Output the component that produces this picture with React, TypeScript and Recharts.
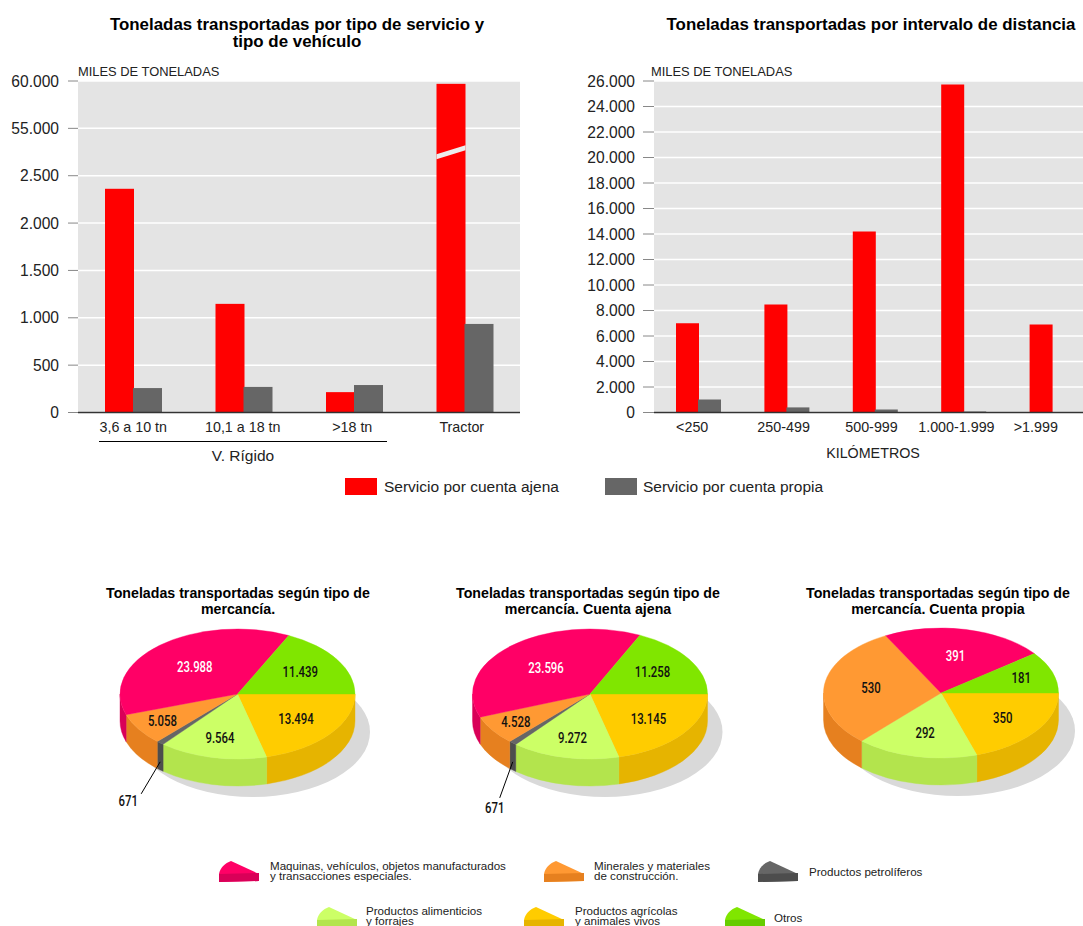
import { Bar, BarChart, CartesianGrid, Pie, PieChart, XAxis, YAxis } from 'recharts';

const SANS = '"Liberation Sans", Arial, sans-serif';
const CONDENSED = 'Roboto, "Liberation Sans", sans-serif';

const RED = '#ff0000';
const GRAY = '#666666';
const PLOT_BG = '#e4e4e4';

// top chart: tipo de vehiculo
const vehicleCategories = ['3,6 a 10 tn', '10,1 a 18 tn', '>18 tn', 'Tractor'];
const vehicleAjena = [2362, 1147, 215, 59700];
const vehiclePropia = [258, 270, 290, 935];
const vehicleTicks = [0, 500, 1000, 1500, 2000, 2500, 3000, 3500];
const vehicleTickLabels = ['0', '500', '1.000', '1.500', '2.000', '2.500', '55.000', '60.000'];
const vehicleLabelShift = [0, -1, -2, -3];

// top chart: distancia
const distanceCategories = ['<250', '250-499', '500-999', '1.000-1.999', '>1.999'];
const distanceAjena = [7000, 8470, 14200, 25730, 6900];
const distancePropia = [1020, 400, 235, 80, 20];
const distanceTicks = [0, 2000, 4000, 6000, 8000, 10000, 12000, 14000, 16000, 18000, 20000, 22000, 24000, 26000];
const distanceLabelShift = [-6, -3, -3.5, -7, -16];

// pies, clockwise from 3 o'clock
const cargoKeys = ['agricolas', 'alimenticios', 'petroliferos', 'minerales', 'maquinas', 'otros'];
const pieTotal = [13494, 9564, 671, 5058, 23988, 11439];
const pieAjena = [13145, 9272, 671, 4528, 23596, 11258];
const piePropia = [350, 292, 0, 530, 391, 181];

const topColors = ['#ffcc00', '#ccff66', '#666666', '#ff9933', '#ff0066', '#80e600'];
const wallColors = ['#e6b400', '#b3e44d', '#4d4d4d', '#e6801f', '#d90058', '#66cc00'];
const labelColors = ['#111', '#111', '#111', '#111', '#fff', '#111'];

const RX = 117.5;
const RY = 65;
const DEPTH = 27;

const miles = (v: number) => String(v).replace(/\B(?=(\d{3})+(?!\d))/g, '.');

// anything above the break is drawn on the compressed part of the axis
const toBrokenAxis = (v: number) => (v <= 2500 ? v : 3000 + (v - 55000) / 10);

const vehicleData = vehicleCategories.map((name, i) => ({
  name,
  ajena: toBrokenAxis(vehicleAjena[i]),
  propia: vehiclePropia[i],
}));

const distanceData = distanceCategories.map((name, i) => ({
  name,
  ajena: distanceAjena[i],
  propia: distancePropia[i],
}));

const point = (cx: number, cy: number, deg: number) => {
  const a = (deg * Math.PI) / 180;
  return [cx + RX * Math.cos(a), cy - RY * Math.sin(a)];
};

function TopSlice({ cx, cy, startAngle, endAngle, payload }: any) {
  if (startAngle === endAngle) return null;
  const [x1, y1] = point(cx, cy, startAngle);
  const [x2, y2] = point(cx, cy, endAngle);
  const large = Math.abs(startAngle - endAngle) > 180 ? 1 : 0;
  const color = topColors[payload.index];
  return (
    <path
      d={`M${cx},${cy}L${x1},${y1}A${RX},${RY} 0 ${large} 1 ${x2},${y2}Z`}
      fill={color}
      stroke={color}
      strokeWidth={0.4}
    />
  );
}

function WallSlice({ cx, cy, startAngle, endAngle, payload }: any) {
  const hi = Math.min(startAngle, 0);
  const lo = Math.max(endAngle, -180);
  if (hi <= lo) return null;
  const [x1, y1] = point(cx, cy, hi);
  const [x2, y2] = point(cx, cy, lo);
  const color = wallColors[payload.index];
  return (
    <path
      d={`M${x1},${y1}A${RX},${RY} 0 0 1 ${x2},${y2}L${x2},${y2 + DEPTH}A${RX},${RY} 0 0 0 ${x1},${y1 + DEPTH}Z`}
      fill={color}
      stroke={color}
      strokeWidth={0.4}
    />
  );
}

function ShadowShape({ cx, cy }: any) {
  return <ellipse cx={cx} cy={cy} rx={RX} ry={RY} fill="#d9d9d9" />;
}

type Leader = { dx: number; dy: number; tx: number; ty: number };

function NarrowText({ x, y, fill, children }: any) {
  // none of the installed fonts is condensed, so squeeze it
  return (
    <text
      transform={`translate(${x},${y}) scale(0.76,1)`}
      fontFamily={CONDENSED}
      fontSize={15}
      fontWeight={500}
      textAnchor="middle"
      dominantBaseline="central"
      fill={fill}
    >
      {children}
    </text>
  );
}

const makeLabel = (radii: number[], leader?: Leader) =>
  function SliceLabel({ cx, cy, midAngle, value, index }: any) {
    if (!value) return null;
    if (index === 2 && leader) {
      const [sx, sy] = point(cx, cy, midAngle);
      const y0 = sy + DEPTH * 0.7;
      return (
        <g>
          <line x1={sx} y1={y0} x2={sx + leader.dx} y2={y0 + leader.dy} stroke="#000" />
          <NarrowText x={sx + leader.tx} y={y0 + leader.ty} fill={labelColors[index]}>
            {miles(value)}
          </NarrowText>
        </g>
      );
    }
    const a = (midAngle * Math.PI) / 180;
    const r = radii[index];
    return (
      <NarrowText x={cx + RX * r * Math.cos(a)} y={cy - RY * r * Math.sin(a)} fill={labelColors[index]}>
        {miles(value)}
      </NarrowText>
    );
  };

function Pie3D({ left, cx, cy, shadowDx, values, radii, leader }: any) {
  const data = values.map((value: number, index: number) => ({ key: cargoKeys[index], value, index }));
  return (
    <div style={{ position: 'absolute', left, top: 610 }}>
      <PieChart width={300} height={210} margin={{ top: 0, right: 0, bottom: 0, left: 0 }}>
        <Pie
          data={[{ value: 1 }]}
          dataKey="value"
          cx={cx + shadowDx}
          cy={cy + 38}
          outerRadius={RX}
          stroke="none"
          shape={ShadowShape}
          isAnimationActive={false}
        />
        <Pie
          data={data}
          dataKey="value"
          cx={cx}
          cy={cy}
          startAngle={0}
          endAngle={-360}
          outerRadius={RX}
          paddingAngle={0}
          stroke="none"
          shape={WallSlice}
          isAnimationActive={false}
        />
        <Pie
          data={data}
          dataKey="value"
          cx={cx}
          cy={cy}
          startAngle={0}
          endAngle={-360}
          outerRadius={RX}
          paddingAngle={0}
          stroke="none"
          shape={TopSlice}
          label={makeLabel(radii, leader)}
          labelLine={false}
          isAnimationActive={false}
        />
      </PieChart>
    </div>
  );
}

function BrokenBar({ x, y, width, height, fill, payload }: any) {
  const broken = payload.ajena > 2500 && fill === RED;
  return (
    <g>
      <rect x={x} y={y} width={width} height={height} fill={fill} />
      {broken && (
        <polygon
          points={`${x},${y + 70.5} ${x + width},${y + 61.5} ${x + width},${y + 66.5} ${x},${y + 75.5}`}
          fill="#ececec"
        />
      )}
    </g>
  );
}

function Text({ x, y, size = 13, bold, align = 'left', leading = 1, children }: any) {
  const transform = align === 'center' ? 'translate(-50%, -50%)' : 'translateY(-50%)';
  return (
    <div
      style={{
        position: 'absolute',
        left: x,
        top: y,
        transform,
        fontFamily: SANS,
        fontSize: size,
        fontWeight: bold ? 700 : 400,
        color: bold ? '#000' : '#222',
        whiteSpace: 'nowrap',
        textAlign: align,
        lineHeight: leading,
      }}
    >
      {children}
    </div>
  );
}

function Wedge({ x, y, top, wall }: any) {
  return (
    <svg width={42} height={24} style={{ position: 'absolute', left: x, top: y }}>
      <path d="M1,14C2,8 7,3 13,1L41,14L41,21L1,22Z" fill={top} />
      <path d="M1,14L41,13L41,21L1,22Z" fill={wall} />
    </svg>
  );
}

const axisTick = { fill: '#222', fontFamily: SANS, fontSize: 15.6 };
const catTick = { fill: '#222', fontFamily: SANS, fontSize: 14.3 };

const shiftedTick = (shift: number[]) =>
  function ShiftedTick({ x, y, payload, index }: any) {
    return (
      <text x={x + shift[index]} y={y + 11} textAnchor="middle" {...catTick}>
        {payload.value}
      </text>
    );
  };

const LEGEND_LEADING = '10.4px';

export default function App() {
  return (
    <div style={{ position: 'absolute', left: 0, top: 0, width: 1083, height: 926, overflow: 'hidden', background: '#fff' }}>
      <Text x={297} y={33} size={16.9} bold align="center" leading="17px">
        Toneladas transportadas por tipo de servicio y<br />tipo de vehículo
      </Text>
      <Text x={871} y={24.5} size={16.9} bold align="center">Toneladas transportadas por intervalo de distancia</Text>
      <Text x={78} y={72} size={12.9}>MILES DE TONELADAS</Text>
      <Text x={651} y={72} size={12.9}>MILES DE TONELADAS</Text>

      <div style={{ position: 'absolute', left: 0, top: 0 }}>
        <BarChart
          width={540}
          height={470}
          data={vehicleData}
          margin={{ top: 81, right: 20, bottom: 0, left: 0 }}
          barSize={29}
          barGap={-1}
        >
          <CartesianGrid vertical={false} stroke="#fff" strokeWidth={1.5} fill={PLOT_BG} />
          <XAxis
            dataKey="name"
            height={57.5}
            interval={0}
            tickLine={false}
            axisLine={{ stroke: '#333', strokeWidth: 1.5 }}
            tick={shiftedTick(vehicleLabelShift)}
          />
          <YAxis
            width={78}
            domain={[0, 3500]}
            ticks={vehicleTicks}
            interval={0}
            tickSize={10}
            tickMargin={9}
            axisLine={false}
            tickLine={{ stroke: '#888' }}
            tick={axisTick}
            tickFormatter={(v: number) => vehicleTickLabels[vehicleTicks.indexOf(v)]}
          />
          <Bar dataKey="ajena" fill={RED} shape={BrokenBar} isAnimationActive={false} />
          <Bar dataKey="propia" fill={GRAY} shape={BrokenBar} isAnimationActive={false} />
        </BarChart>
      </div>

      <div style={{ position: 'absolute', left: 580, top: 0 }}>
        <BarChart
          width={520}
          height={470}
          data={distanceData}
          margin={{ top: 81, right: 4, bottom: 0, left: 0 }}
          barSize={23}
          barGap={-1}
        >
          <CartesianGrid vertical={false} stroke="#fff" strokeWidth={1.5} fill={PLOT_BG} />
          <XAxis
            dataKey="name"
            height={57.5}
            interval={0}
            tickLine={false}
            axisLine={{ stroke: '#333', strokeWidth: 1.5 }}
            tick={shiftedTick(distanceLabelShift)}
          />
          <YAxis
            width={74}
            domain={[0, 26000]}
            ticks={distanceTicks}
            interval={0}
            tickSize={11}
            tickMargin={8}
            axisLine={false}
            tickLine={{ stroke: '#888' }}
            tick={axisTick}
            tickFormatter={miles}
          />
          <Bar dataKey="ajena" fill={RED} isAnimationActive={false} />
          <Bar dataKey="propia" fill={GRAY} isAnimationActive={false} />
        </BarChart>
      </div>

      <div style={{ position: 'absolute', left: 99, top: 441, width: 288, height: 1, background: '#000' }} />
      <Text x={243} y={456} size={15.5} align="center">V. Rígido</Text>
      <Text x={873} y={453} size={14.3} align="center">KILÓMETROS</Text>

      <div style={{ position: 'absolute', left: 345, top: 478, width: 32, height: 17, background: RED }} />
      <Text x={384} y={487} size={15.5}>Servicio por cuenta ajena</Text>
      <div style={{ position: 'absolute', left: 605, top: 478, width: 32, height: 17, background: GRAY }} />
      <Text x={643} y={487} size={15.5}>Servicio por cuenta propia</Text>

      <Text x={238} y={601} size={14.2} bold align="center" leading="16px">
        Toneladas transportadas según tipo de<br />mercancía.
      </Text>
      <Text x={588} y={601} size={14.2} bold align="center" leading="16px">
        Toneladas transportadas según tipo de<br />mercancía. Cuenta ajena
      </Text>
      <Text x={938} y={601} size={14.2} bold align="center" leading="16px">
        Toneladas transportadas según tipo de<br />mercancía. Cuenta propia
      </Text>

      <Pie3D
        left={100}
        cx={137.5}
        cy={84}
        shadowDx={15}
        values={pieTotal}
        radii={[0.63, 0.69, 0, 0.76, 0.55, 0.63]}
        leader={{ dx: -19, dy: 32, tx: -32, ty: 39 }}
      />
      <Pie3D
        left={452}
        cx={138}
        cy={84}
        shadowDx={15}
        values={pieAjena}
        radii={[0.63, 0.69, 0, 0.76, 0.55, 0.63]}
        leader={{ dx: -13, dy: 36, tx: -18, ty: 46 }}
      />
      <Pie3D
        left={783}
        cx={158}
        cy={83}
        shadowDx={16.5}
        values={piePropia}
        radii={[0.65, 0.63, 0, 0.6, 0.58, 0.72]}
      />

      <Wedge x={218} y={860} top={topColors[4]} wall={wallColors[4]} />
      <Wedge x={543} y={860} top={topColors[3]} wall={wallColors[3]} />
      <Wedge x={757} y={860} top={topColors[2]} wall={wallColors[2]} />
      <Wedge x={316} y={906} top={topColors[1]} wall={wallColors[1]} />
      <Wedge x={523} y={906} top={topColors[0]} wall={wallColors[0]} />
      <Wedge x={724} y={906} top={topColors[5]} wall={wallColors[5]} />

      <Text x={270} y={871} size={11.6} leading={LEGEND_LEADING}>
        Maquinas, vehículos, objetos manufacturados<br />y transacciones especiales.
      </Text>
      <Text x={594} y={871} size={11.6} leading={LEGEND_LEADING}>
        Minerales y materiales<br />de construcción.
      </Text>
      <Text x={809} y={872} size={11.6}>Productos petrolíferos</Text>
      <Text x={366} y={916} size={11.6} leading={LEGEND_LEADING}>
        Productos alimenticios<br />y forrajes
      </Text>
      <Text x={575} y={916} size={11.6} leading={LEGEND_LEADING}>
        Productos agrícolas<br />y animales vivos
      </Text>
      <Text x={774} y={918} size={11.6}>Otros</Text>
    </div>
  );
}
